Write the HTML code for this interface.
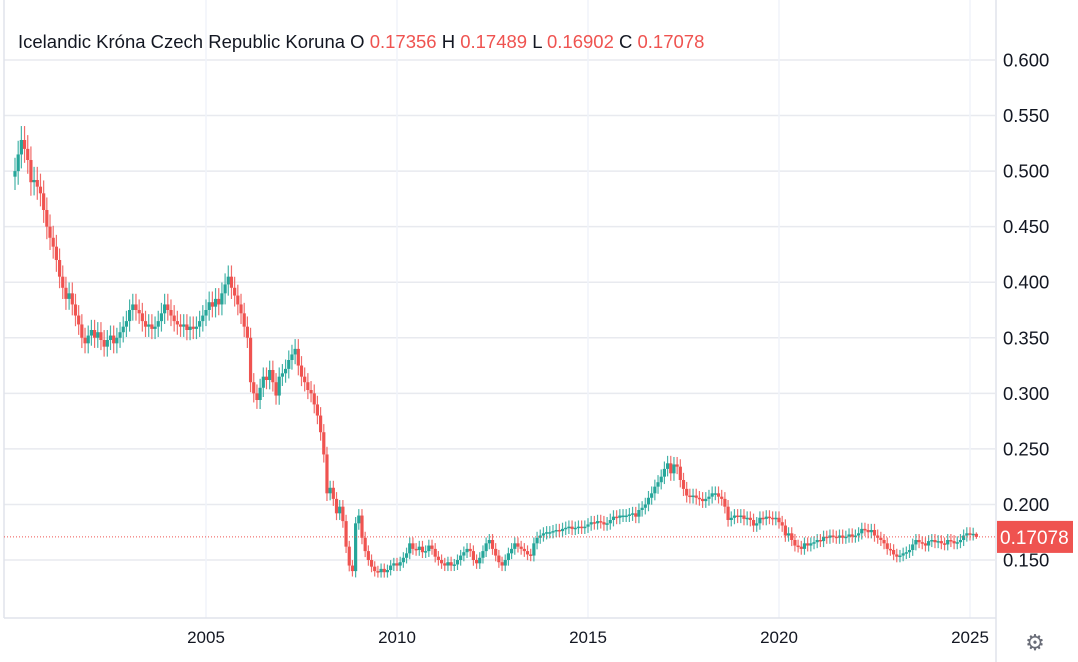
<!DOCTYPE html>
<html><head><meta charset="utf-8"><style>
body{margin:0;background:#fff;font-family:"Liberation Sans",Arial,sans-serif;}
#wrap{position:relative;width:1078px;height:662px;overflow:hidden;}
svg{position:absolute;left:0;top:0;}
</style></head><body>
<div id="wrap">
<svg id="chart" width="1078" height="662"></svg>
</div>
<script>
const years=[2005,2010,2015,2020,2025];
const priceTicks=[0.600,0.550,0.500,0.450,0.400,0.350,0.300,0.250,0.200,0.150];
const startYear=2000;
const closes=[
0.50,0.515,0.528,0.52,0.51,0.49,0.492,0.486,0.48,0.465,0.45,0.44,
0.432,0.42,0.405,0.395,0.385,0.39,0.38,0.37,0.362,0.35,0.345,0.352,
0.357,0.35,0.355,0.348,0.342,0.348,0.352,0.345,0.35,0.355,0.36,0.365,
0.375,0.38,0.375,0.372,0.365,0.36,0.362,0.358,0.36,0.365,0.372,0.38,
0.375,0.37,0.365,0.362,0.36,0.362,0.357,0.36,0.358,0.36,0.365,0.37,
0.375,0.382,0.378,0.385,0.38,0.39,0.398,0.405,0.395,0.388,0.38,0.372,
0.36,0.35,0.31,0.30,0.294,0.305,0.315,0.312,0.321,0.31,0.298,0.315,
0.318,0.322,0.33,0.335,0.34,0.325,0.315,0.31,0.303,0.30,0.29,0.28,
0.265,0.245,0.21,0.215,0.205,0.192,0.198,0.185,0.162,0.145,0.14,0.183,
0.19,0.17,0.158,0.15,0.144,0.14,0.139,0.142,0.139,0.141,0.145,0.147,
0.145,0.148,0.152,0.156,0.165,0.16,0.159,0.162,0.157,0.158,0.163,0.16,
0.153,0.15,0.147,0.145,0.148,0.145,0.146,0.15,0.154,0.157,0.16,0.158,
0.15,0.147,0.152,0.158,0.165,0.168,0.16,0.154,0.148,0.145,0.15,0.156,
0.16,0.165,0.162,0.16,0.158,0.155,0.154,0.165,0.17,0.172,0.174,0.175,
0.175,0.176,0.177,0.176,0.178,0.179,0.18,0.178,0.179,0.18,0.179,0.18,
0.182,0.184,0.183,0.185,0.184,0.182,0.183,0.186,0.189,0.188,0.19,0.19,
0.19,0.191,0.192,0.189,0.195,0.197,0.2,0.206,0.21,0.216,0.22,0.225,
0.232,0.237,0.228,0.236,0.234,0.222,0.214,0.208,0.207,0.208,0.206,0.205,
0.203,0.205,0.207,0.21,0.21,0.207,0.205,0.198,0.186,0.188,0.19,0.189,
0.19,0.187,0.188,0.186,0.181,0.183,0.188,0.187,0.189,0.188,0.187,0.188,
0.184,0.181,0.172,0.174,0.168,0.163,0.162,0.16,0.165,0.163,0.165,0.166,
0.168,0.167,0.171,0.17,0.172,0.171,0.17,0.172,0.17,0.171,0.173,0.171,
0.172,0.174,0.178,0.177,0.175,0.177,0.172,0.17,0.168,0.165,0.16,0.159,
0.155,0.153,0.154,0.156,0.157,0.159,0.164,0.168,0.166,0.165,0.163,0.167,
0.168,0.166,0.167,0.165,0.164,0.168,0.167,0.165,0.166,0.168,0.172,0.174,
0.173,0.17356,0.17078];
const firstOpen=0.495;
const lastPrice=0.17078;
const ohlcLabels=["0.17356","0.17489","0.16902","0.17078"];

const NS="http://www.w3.org/2000/svg";
const svg=document.getElementById('chart');
const plotR=995, plotB=618;
function y(v){return 60+(0.6-v)*1111.1;}
function xYear(yr){return 15+(yr-startYear)*38.2;}
function xi(i){return xYear(startYear+i/12);}
function mk(tag,attrs,parent){const e=document.createElementNS(NS,tag);for(const k in attrs)e.setAttribute(k,attrs[k]);(parent||svg).appendChild(e);return e;}

const grid=mk('g',{});


priceTicks.forEach(v=>{
  const l=mk('line',{x1:4,x2:plotR,y1:y(v),y2:y(v),stroke:'#e8eaef','stroke-width':1.5},grid);
  
  
  const t=mk('text',{x:1003,y:y(v)+6.5,'font-size':18.5,fill:'#131722'});
  t.textContent=v.toFixed(3);
  
  
});
years.forEach(yr=>{
  const xx=xYear(yr);
  const l=mk('line',{x1:xx,x2:xx,y1:0,y2:plotB,stroke:'#f0f3fa','stroke-width':1.5},grid);
  
  
  const t=mk('text',{x:xx,y:643,'font-size':17,fill:'#131722','text-anchor':'middle'});
  t.textContent=yr;
  
  
});
const b1=mk('line',{x1:4,x2:4,y1:0,y2:plotB,stroke:'#e0e3eb','stroke-width':1.5});

const b2=mk('line',{x1:996,x2:996,y1:0,y2:662,stroke:'#e0e3eb','stroke-width':1.5});

const b3=mk('line',{x1:4,x2:996,y1:plotB,y2:plotB,stroke:'#e0e3eb','stroke-width':1.5});


const cg=mk('g',{});


closes.forEach((c,i)=>{
  const o=i===0?firstOpen:closes[i-1];
  const w=Math.max(o,c)*0.02+0.002;
  const h=(i===closes.length-1)?0.17489:Math.max(o,c)+w;
  const lo=(i===closes.length-1)?0.16902:Math.min(o,c)-w;
  const col=c>=o?'#26a69a':'#ef5350';
  const xx=xi(i);
  const g=mk('g',{},cg);
  
  
  mk('line',{x1:xx,x2:xx,y1:y(h),y2:y(lo),stroke:col,'stroke-width':1.2,opacity:0.85},g);
  const top=y(Math.max(o,c)),bh=Math.max(1.5,y(Math.min(o,c))-top);
  mk('rect',{x:xx-1.6,y:top,width:3.2,height:bh,fill:col},g);
});

const pl=mk('line',{x1:4,x2:995,y1:y(lastPrice),y2:y(lastPrice),stroke:'#ef5350','stroke-width':1,'stroke-dasharray':'1,2'});

const pb=mk('rect',{x:997,y:y(lastPrice)-16,width:76,height:32,fill:'#ef5350'});

const pt=mk('text',{x:1000,y:y(lastPrice)+7,'font-size':19,fill:'#fff'});
pt.textContent=lastPrice.toFixed(5);


const lg=mk('text',{x:18,y:48,'font-size':18.5,fill:'#131722'});


const parts=[['Icelandic Króna Czech Republic Koruna O ','#131722'],[ohlcLabels[0],'#ef5350'],[' H ','#131722'],[ohlcLabels[1],'#ef5350'],[' L ','#131722'],[ohlcLabels[2],'#ef5350'],[' C ','#131722'],[ohlcLabels[3],'#ef5350']];
parts.forEach(p=>{const s=mk('tspan',{fill:p[1]},lg);s.textContent=p[0];});
lg.setAttribute('style','white-space:pre');

const gear=mk('text',{x:1035,y:650,'font-size':22,fill:'#6a6d78','text-anchor':'middle'});
gear.textContent='⚙';


</script>
</body></html>
